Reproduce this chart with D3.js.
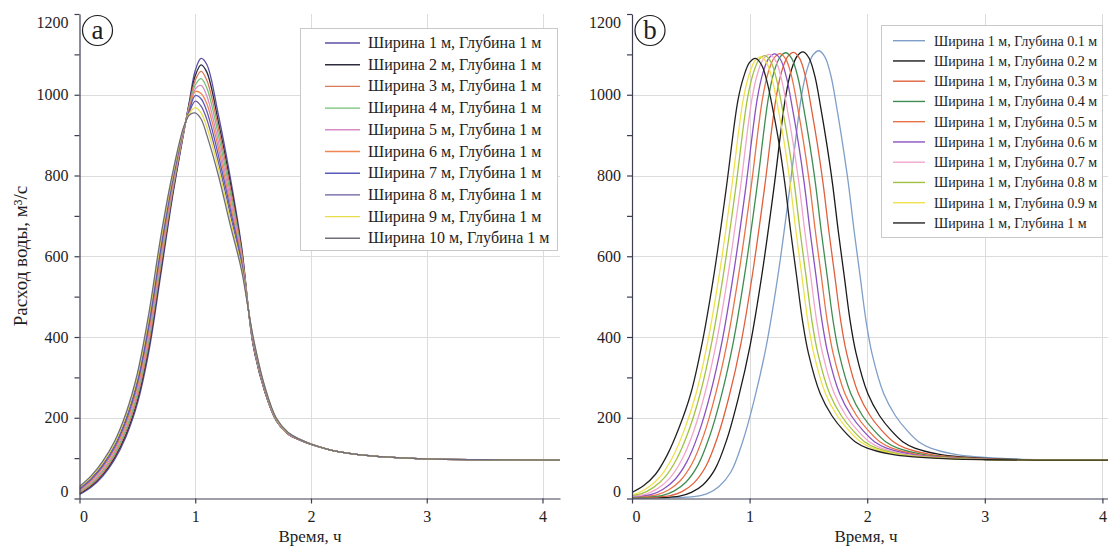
<!DOCTYPE html>
<html><head><meta charset="utf-8">
<script src="https://cdn.jsdelivr.net/npm/d3@7"></script>
<style>
body{margin:0;background:#fff}
svg{display:block}
text{font-family:"Liberation Serif","Times New Roman",serif;fill:#1e1e1e}
</style>
</head><body>
<svg id="c" width="1108" height="548"></svg>
<script>
// ---------- DATA ----------
const xTickValues = [0, 1, 2, 3, 4];
const yTickValues = [0, 100, 200, 300, 400, 500, 600, 700, 800, 900, 1000, 1100, 1200];
const yGridValues = [200, 400, 600, 800, 1000];
const xGridValues = [1, 2, 3, 4];
const xTitle = "Время, ч";
const yTitle = "Расход воды, м³/с";

// Panel (a): common time grid, hours
const timeA = [0,0.1,0.2,0.3,0.4,0.5,0.6,0.7,0.8,0.9,0.95,1.0,1.05,1.1,1.2,1.3,1.4,1.5,1.6,1.7,1.8,1.9,2.0,2.2,2.5,3.0,3.5,4.2];
const widthLabels = ["Ширина 1 м, Глубина 1 м","Ширина 2 м, Глубина 1 м","Ширина 3 м, Глубина 1 м","Ширина 4 м, Глубина 1 м","Ширина 5 м, Глубина 1 м","Ширина 6 м, Глубина 1 м","Ширина 7 м, Глубина 1 м","Ширина 8 м, Глубина 1 м","Ширина 9 м, Глубина 1 м","Ширина 10 м, Глубина 1 м"];
const widthColors = ["#5b4fa6","#2c2c3c","#d9785a","#74c074","#d98ac8","#f08552","#5a5abb","#6a5a9e","#e6dc4c","#6e6e7a"];
const width1  = [10,28,55,95,152,235,365,550,740,905,985,1060,1090,1075,950,800,625,380,265,192,160,145,134,118,106,98,96,95];
const width2  = [12,31,59,100,158,243,376,561,747,907,981,1047,1074,1056,933,787,618,382,266,193,160,145,134,118,106,98,96,95];
const width3  = [14,34,63,105,165,252,386,571,753,908,977,1036,1058,1036,917,773,612,384,268,194,160,145,134,118,106,98,96,95];
const width4  = [17,37,67,110,171,260,397,582,760,910,973,1024,1040,1017,900,760,605,387,269,194,161,146,134,118,106,98,96,95];
const width5  = [19,40,71,115,178,268,407,592,767,912,969,1014,1023,997,883,747,598,389,271,195,161,146,135,118,106,98,96,95];
const width6  = [21,44,76,120,184,277,418,603,773,913,966,1008,1003,978,867,733,592,391,272,196,162,146,135,118,106,98,96,95];
const width7  = [23,47,80,125,191,285,429,613,780,915,962,998,990,959,850,720,585,393,274,197,162,146,135,118,106,98,96,95];
const width8  = [26,50,84,130,197,293,439,624,787,917,958,984,972,939,833,707,578,396,275,197,163,147,135,118,106,98,96,95];
const width9  = [28,53,88,135,204,302,450,634,793,918,954,968,955,920,817,693,572,398,277,198,163,147,135,118,106,98,96,95];
const width10 = [30,56,92,140,210,310,460,645,800,920,950,955,940,900,800,680,565,400,278,199,164,147,135,118,106,98,96,95];

// Panel (b): [time, flow] pairs per depth
const depthLabels = ["Ширина 1 м, Глубина 0.1 м","Ширина 1 м, Глубина 0.2 м","Ширина 1 м, Глубина 0.3 м","Ширина 1 м, Глубина 0.4 м","Ширина 1 м, Глубина 0.5 м","Ширина 1 м, Глубина 0.6 м","Ширина 1 м, Глубина 0.7 м","Ширина 1 м, Глубина 0.8 м","Ширина 1 м, Глубина 0.9 м","Ширина 1 м, Глубина 1 м"];
const depthColors = ["#7f9fc9","#1a1a1a","#e0603c","#3f8c52","#ea7248","#8a52c2","#f2a6cc","#a2c244","#f0e04a","#222222"];
const depth01 = [[0,0],[0.3,1],[0.54,5],[0.64,12],[0.74,30],[0.84,65],[0.94,140],[1.04,245],[1.14,375],[1.24,550],[1.34,765],[1.44,995],[1.49,1064],[1.54,1099],[1.59,1109],[1.64,1094],[1.69,1049],[1.74,970],[1.79,880],[1.84,780],[1.89,660],[1.94,550],[1.99,440],[2.04,360],[2.14,260],[2.24,205],[2.34,168],[2.44,140],[2.54,125],[2.74,110],[2.94,103],[3.24,98],[3.54,96],[4.04,95],[4.1,95]];
const depth02 = [[0,1],[0.405,6],[0.505,15],[0.605,34],[0.705,72],[0.805,145],[0.905,250],[1.005,380],[1.105,555],[1.205,765],[1.305,993],[1.355,1061],[1.405,1096],[1.455,1106],[1.505,1091],[1.555,1046],[1.605,968],[1.655,880],[1.705,780],[1.755,660],[1.805,550],[1.855,440],[1.905,360],[2.005,260],[2.105,205],[2.205,168],[2.305,140],[2.405,125],[2.605,110],[2.805,103],[3.105,98],[3.405,96],[3.905,95],[4.1,95]];
const depth03 = [[0,2],[0.325,7],[0.425,17],[0.525,38],[0.625,78],[0.725,150],[0.825,252],[0.925,382],[1.025,556],[1.125,765],[1.225,992],[1.275,1060],[1.325,1095],[1.375,1105],[1.425,1090],[1.475,1045],[1.525,967],[1.575,880],[1.625,780],[1.675,660],[1.725,550],[1.775,440],[1.825,360],[1.925,260],[2.025,205],[2.125,168],[2.225,140],[2.325,125],[2.525,110],[2.725,103],[3.025,98],[3.325,96],[3.825,95],[4.1,95]];
const depth04 = [[0,3],[0.26,8],[0.36,19],[0.46,41],[0.56,82],[0.66,154],[0.76,255],[0.86,385],[0.96,558],[1.06,765],[1.16,992],[1.21,1059],[1.26,1094],[1.31,1104],[1.36,1089],[1.41,1044],[1.46,967],[1.51,880],[1.56,780],[1.61,660],[1.66,550],[1.71,440],[1.76,360],[1.86,260],[1.96,205],[2.06,168],[2.16,140],[2.26,125],[2.46,110],[2.66,103],[2.96,98],[3.26,96],[3.76,95],[4.1,95]];
const depth05 = [[0,4],[0.21,9],[0.31,21],[0.41,44],[0.51,86],[0.61,157],[0.71,258],[0.81,388],[0.91,560],[1.01,765],[1.11,991],[1.16,1057],[1.21,1092],[1.26,1102],[1.31,1087],[1.36,1042],[1.41,966],[1.46,880],[1.51,780],[1.56,660],[1.61,550],[1.66,440],[1.71,360],[1.81,260],[1.91,205],[2.01,168],[2.11,140],[2.21,125],[2.41,110],[2.61,103],[2.91,98],[3.21,96],[3.71,95],[4.1,95]];
const depth06 = [[0,5],[0.165,10],[0.265,23],[0.365,47],[0.465,90],[0.565,160],[0.665,258],[0.765,388],[0.865,560],[0.965,765],[1.065,990],[1.115,1056],[1.165,1091],[1.215,1101],[1.265,1086],[1.315,1041],[1.365,965],[1.415,880],[1.465,780],[1.515,660],[1.565,550],[1.615,440],[1.665,360],[1.765,260],[1.865,205],[1.965,168],[2.065,140],[2.165,125],[2.365,110],[2.565,103],[2.865,98],[3.165,96],[3.665,95],[4.1,95]];
const depth07 = [[0,6],[0.12,11],[0.22,25],[0.32,50],[0.42,94],[0.52,163],[0.62,260],[0.72,390],[0.82,560],[0.92,765],[1.02,990],[1.07,1055],[1.12,1090],[1.17,1100],[1.22,1085],[1.27,1040],[1.32,965],[1.37,880],[1.42,780],[1.47,660],[1.52,550],[1.57,440],[1.62,360],[1.72,260],[1.82,205],[1.92,168],[2.02,140],[2.12,125],[2.32,110],[2.52,103],[2.82,98],[3.12,96],[3.62,95],[4.1,95]];
const depth08 = [[0,8],[0.08,12],[0.18,27],[0.28,53],[0.38,98],[0.48,166],[0.58,260],[0.68,390],[0.78,560],[0.88,765],[0.98,988],[1.03,1052],[1.08,1087],[1.13,1097],[1.18,1082],[1.23,1037],[1.28,963],[1.33,880],[1.38,780],[1.43,660],[1.48,550],[1.53,440],[1.58,360],[1.68,260],[1.78,205],[1.88,168],[1.98,140],[2.08,125],[2.28,110],[2.48,103],[2.78,98],[3.08,96],[3.58,95],[4.1,95]];
const depth09 = [[0,10],[0.045,13],[0.145,29],[0.245,56],[0.345,102],[0.445,170],[0.545,260],[0.645,390],[0.745,560],[0.845,765],[0.945,987],[0.995,1049],[1.045,1084],[1.095,1094],[1.145,1079],[1.195,1034],[1.245,962],[1.295,880],[1.345,780],[1.395,660],[1.445,550],[1.495,440],[1.545,360],[1.645,260],[1.745,205],[1.845,168],[1.945,140],[2.045,125],[2.245,110],[2.445,103],[2.745,98],[3.045,96],[3.545,95],[4.1,95]];
const depth10 = [[0,15],[0.1,32],[0.2,60],[0.3,108],[0.4,175],[0.5,260],[0.6,390],[0.7,560],[0.8,765],[0.9,985],[0.95,1045],[1.0,1080],[1.05,1090],[1.1,1075],[1.15,1030],[1.2,960],[1.25,880],[1.3,780],[1.35,660],[1.4,550],[1.45,440],[1.5,360],[1.6,260],[1.7,205],[1.8,168],[1.9,140],[2.0,125],[2.2,110],[2.4,103],[2.7,98],[3.0,96],[3.5,95],[4.1,95]];

// ---------- DRAWING ----------
const svg = d3.select("#c");
const widthSeries = [width1,width2,width3,width4,width5,width6,width7,width8,width9,width10]
  .map(vals => vals.map((v,i) => [timeA[i], v]));
const depthSeries = [depth01,depth02,depth03,depth04,depth05,depth06,depth07,depth08,depth09,depth10];

const AXIS_COLOR = "#3e3e52";
const GRID_COLOR = "#dcdcdc";

function drawPanel(cfg) {
  const g = svg.append("g");
  const x = d3.scaleLinear().domain([0, cfg.xMax]).range([cfg.left, cfg.right]);
  const y = d3.scaleLinear().domain([0, 1200]).range([498.5, 14]);

  // grid
  g.append("g").selectAll("line").data(yGridValues).join("line")
    .attr("x1", cfg.left).attr("x2", cfg.right)
    .attr("y1", d => Math.round(y(d)) + 0.5).attr("y2", d => Math.round(y(d)) + 0.5)
    .attr("stroke", GRID_COLOR).attr("stroke-width", 1);
  g.append("g").selectAll("line").data(xGridValues).join("line")
    .attr("x1", d => Math.round(x(d)) + 0.5).attr("x2", d => Math.round(x(d)) + 0.5)
    .attr("y1", y(1200)).attr("y2", y(0))
    .attr("stroke", GRID_COLOR).attr("stroke-width", 1);

  // curves
  const clipId = "clip" + cfg.name;
  svg.append("defs").append("clipPath").attr("id", clipId)
    .append("rect").attr("x", cfg.left).attr("y", 0)
    .attr("width", cfg.right - cfg.left).attr("height", y(0));
  const line = d3.line().x(d => x(d[0])).y(d => y(d[1]))
    .curve(d3.curveCatmullRom.alpha(0.5));
  g.append("g").attr("clip-path", `url(#${clipId})`)
    .selectAll("path").data(cfg.series).join("path")
    .attr("d", line).attr("fill", "none")
    .attr("stroke", (d, i) => cfg.colors[i]).attr("stroke-width", 1.3);

  // axes
  const ya = g.append("g").attr("transform", `translate(${cfg.left},0)`)
    .call(d3.axisLeft(y).tickValues(yTickValues).tickSize(5).tickSizeOuter(0).tickPadding(6)
      .tickFormat(d => d % 200 === 0 ? d : ""));
  const xa = g.append("g").attr("transform", `translate(0,${y(0)})`)
    .call(d3.axisBottom(x).tickValues(xTickValues).tickSize(5).tickSizeOuter(0).tickPadding(7)
      .tickFormat(d3.format("d")));
  [ya, xa].forEach(a => {
    a.attr("font-family", null).attr("font-size", null);
    a.selectAll("path,line").attr("stroke", AXIS_COLOR).attr("stroke-width", 1.2);
    a.selectAll("text").attr("font-size", 16).attr("fill", "#1e1e1e");
  });
  ya.selectAll(".tick").filter(d => d === 0).select("text").attr("transform", "translate(0,-7)");
  ya.selectAll(".tick").filter(d => d === 1200).select("text").attr("transform", "translate(0,8)");
  xa.selectAll(".tick").filter(d => d === 0).select("text").attr("transform", "translate(4,0)");

  // x title
  g.append("text").attr("x", cfg.xTitleX).attr("y", 542).attr("text-anchor", "middle")
    .attr("font-size", 17).text(xTitle);

  // panel letter
  g.append("circle").attr("cx", cfg.letterX).attr("cy", 30.5).attr("r", 15)
    .attr("fill", "white").attr("stroke", "#1e1e1e").attr("stroke-width", 1.2);
  g.append("text").attr("x", cfg.letterX).attr("y", 38.5).attr("text-anchor", "middle")
    .attr("font-size", 27).text(cfg.letter);

  // legend
  const L = cfg.legend;
  const lg = g.append("g");
  lg.append("rect").attr("x", L.x + 0.5).attr("y", L.y + 0.5).attr("width", L.w).attr("height", L.h)
    .attr("fill", "white").attr("stroke", "#c9c9c9").attr("stroke-width", 1);
  const rows = lg.selectAll("g").data(cfg.labels).join("g")
    .attr("transform", (d, i) => `translate(0,${L.row0 + i * L.dy})`);
  rows.append("line").attr("x1", L.lx1).attr("x2", L.lx2).attr("y1", 0).attr("y2", 0)
    .attr("stroke", (d, i) => cfg.colors[i]).attr("stroke-width", 1.4);
  rows.append("text").attr("x", L.tx).attr("y", 5).attr("font-size", L.fs).text(d => d);
}

drawPanel({
  name: "a", left: 79.5, right: 560, xMax: (560 - 79.5) / 115.75,
  series: widthSeries, colors: widthColors, labels: widthLabels,
  xTitleX: 310, letter: "a", letterX: 97.5,
  legend: {x: 300, y: 28, w: 257, h: 222, row0: 43, dy: 21.7, lx1: 325, lx2: 360, tx: 368, fs: 16}
});
drawPanel({
  name: "b", left: 632, right: 1108, xMax: (1108 - 632) / 117.6,
  series: depthSeries, colors: depthColors, labels: depthLabels,
  xTitleX: 866, letter: "b", letterX: 650,
  legend: {x: 881, y: 25, w: 221, h: 212, row0: 40.7, dy: 20.25, lx1: 893, lx2: 925, tx: 934, fs: 14.1}
});

// y title
svg.append("text").attr("transform", "translate(27,256) rotate(-90)")
  .attr("text-anchor", "middle").attr("font-size", 19).text(yTitle);
</script>
</body></html>
